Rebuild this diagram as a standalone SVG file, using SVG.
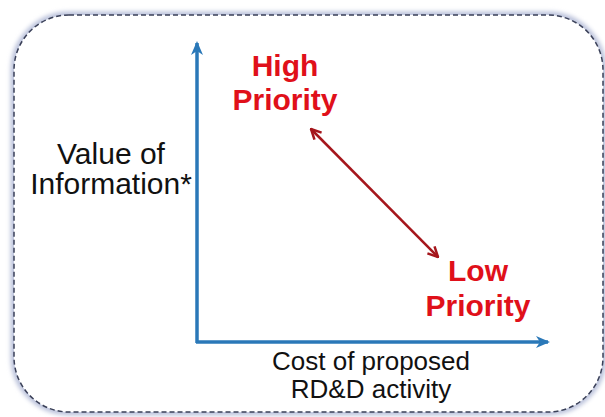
<svg xmlns="http://www.w3.org/2000/svg" width="605" height="417" viewBox="0 0 605 417">
<style>
.lab{font-family:"Liberation Sans",Arial,sans-serif;fill:#111;text-anchor:middle}
.pri{font-family:"Liberation Sans",Arial,sans-serif;font-weight:bold;fill:#e0101a;text-anchor:middle;font-size:30px}
.axis{stroke:#2a78b8;stroke-width:3.5;fill:none}
.diag{stroke:#a5161c;stroke-width:2.5;fill:none}
</style>
<defs>
<filter id="glow" x="-5%" y="-5%" width="110%" height="110%"><feGaussianBlur stdDeviation="2"/></filter>
<marker id="ab" viewBox="0 0 14 12" refX="12" refY="6" markerWidth="14" markerHeight="12" markerUnits="userSpaceOnUse" orient="auto">
<path d="M0,0 L14,6 L0,12 L4,6 Z" fill="#2a78b8"/>
</marker>
<marker id="ar" viewBox="0 0 12 12" refX="11" refY="6" markerWidth="12" markerHeight="12" markerUnits="userSpaceOnUse" orient="auto-start-reverse">
<path d="M1,1 L11,6 L1,11" fill="none" stroke="#a5161c" stroke-width="2.5" stroke-linejoin="miter"/>
</marker>
</defs>
<g id="frame">
<rect x="14" y="15" width="589" height="397" rx="55" fill="none" stroke="#bcc3dc" stroke-width="7" filter="url(#glow)"/>
<rect x="14" y="15" width="589" height="397" rx="55" fill="#fff" stroke="#3a4058" stroke-width="1.5" stroke-dasharray="5,3"/>
</g>
<g id="connectors">
<line class="axis" x1="197" y1="343" x2="197" y2="43" marker-end="url(#ab)"/>
<line class="axis" x1="196" y1="342" x2="548" y2="342" marker-end="url(#ab)"/>
<line class="diag" x1="311" y1="129" x2="438" y2="257" marker-start="url(#ar)" marker-end="url(#ar)"/>
</g>
<g id="y-label"><text class="lab" font-size="30" x="111" y="164">Value of</text><text class="lab" font-size="30" x="111" y="194">Information*</text></g>
<g id="x-label"><text class="lab" font-size="26" x="371" y="370">Cost of proposed</text><text class="lab" font-size="26" x="371" y="398">RD&amp;D activity</text></g>
<g id="high"><text class="pri" x="285" y="76">High</text><text class="pri" x="285" y="110">Priority</text></g>
<g id="low"><text class="pri" x="478" y="281">Low</text><text class="pri" x="478" y="316">Priority</text></g>
</svg>
